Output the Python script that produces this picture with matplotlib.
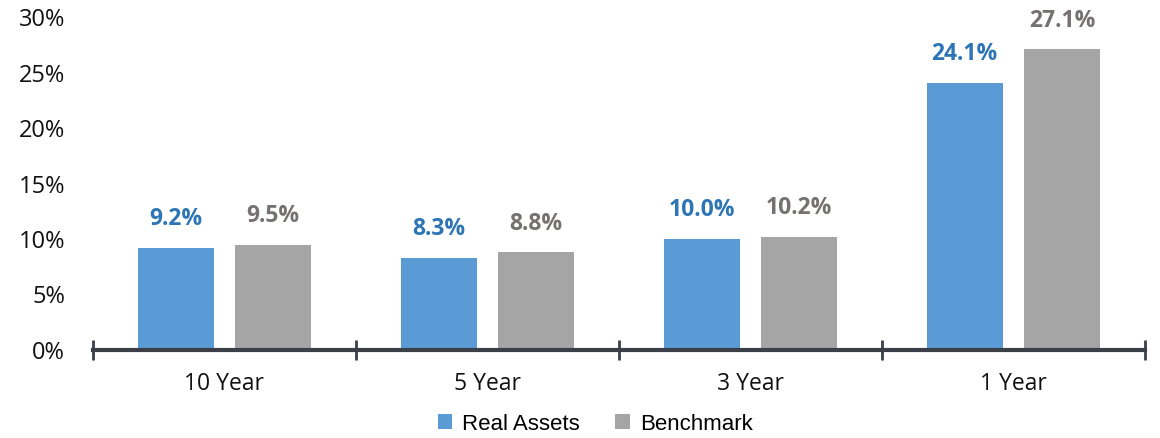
import matplotlib
matplotlib.use("Agg")
import matplotlib.pyplot as plt
import numpy as np

categories = ["10 Year", "5 Year", "3 Year", "1 Year"]
real_assets = [9.2, 8.3, 10.0, 24.1]
benchmark = [9.5, 8.8, 10.2, 27.1]
series_names = ["Real Assets", "Benchmark"]
y_ticks = [0, 5, 10, 15, 20, 25, 30]

bar_colors = ["#5B9BD5", "#A5A5A5"]
label_colors = ["#2E75B6", "#767171"]

plt.rcParams["font.family"] = ["Open Sans", "DejaVu Sans"]

fig = plt.figure(figsize=(11.6, 4.38), dpi=100)
ax = fig.add_axes([0.080, 0.201, 0.907, 0.760])

x = np.arange(len(categories))
width = 0.29
offset = 0.185

for i, (vals, off) in enumerate([(real_assets, -offset), (benchmark, offset)]):
    bars = ax.bar(x + off, vals, width, color=bar_colors[i], label=series_names[i], zorder=2)
    for b, v in zip(bars, vals):
        ax.annotate(f"{v:.1f}%", (b.get_x() + b.get_width() / 2, v),
                    xytext=(0, 12), textcoords="offset points",
                    ha="center", va="bottom", fontsize=16.5, fontweight="bold",
                    color=label_colors[i])

ax.set_xlim(-0.5, len(categories) - 0.5)
ax.set_ylim(0, 30)
ax.set_yticks(y_ticks)
ax.set_yticklabels([f"{t}%" for t in y_ticks])
ax.tick_params(axis="y", length=0, pad=20, labelsize=17, labelcolor="#111111")

ax.set_xticks(x)
ax.set_xticklabels(categories)
ax.tick_params(axis="x", which="major", length=0, pad=16, labelsize=16.5, labelcolor="#111111")
ax.set_xticks(np.arange(-0.5, len(categories), 1.0), minor=True)
ax.tick_params(axis="x", which="minor", length=14, width=2, direction="inout", color="#3A3F48")

for s in ["top", "right", "left"]:
    ax.spines[s].set_visible(False)
ax.spines["bottom"].set_linewidth(3)
ax.spines["bottom"].set_color("#3A3F48")
ax.spines["bottom"].set_zorder(3)

fig.legend(loc="center", bbox_to_anchor=(595 / 1160, 1 - 424 / 438), ncol=2,
           frameon=False, handlelength=0.65, handleheight=0.65,
           handletextpad=0.45, columnspacing=1.6,
           prop={"family": ["Liberation Sans", "DejaVu Sans"], "size": 16})

fig.savefig("out.png", dpi=100)
